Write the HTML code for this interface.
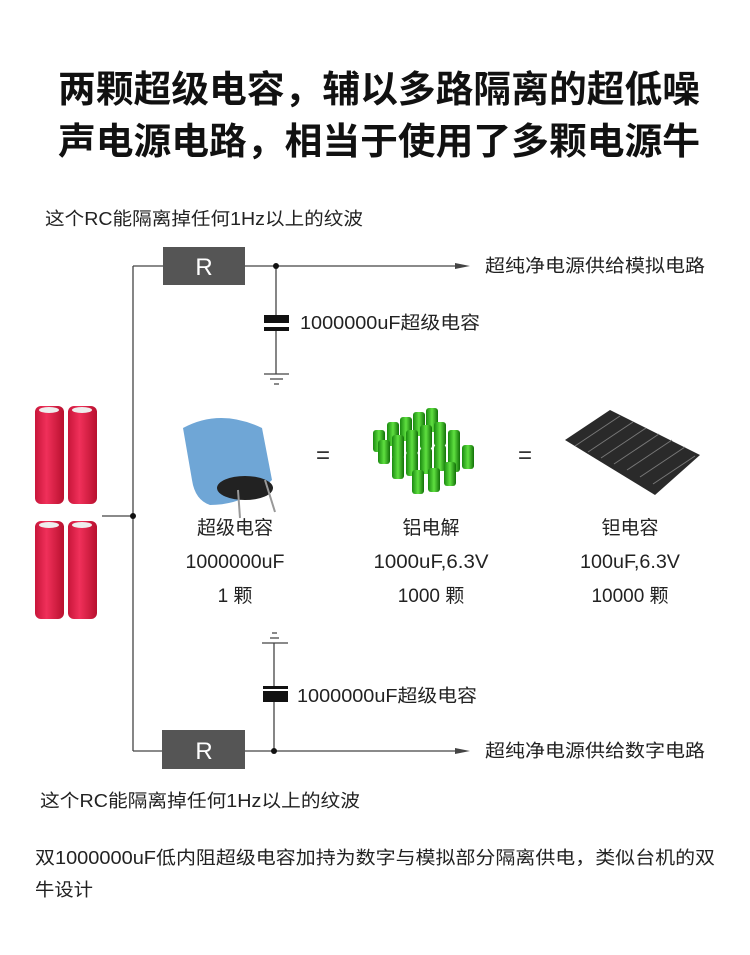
<!DOCTYPE html>
<html><head><meta charset="utf-8"><style>
body{margin:0;background:#fff;}
svg{display:block;font-family:"Liberation Sans","Noto Sans CJK SC",sans-serif;}
</style></head><body>
<svg width="750" height="955" viewBox="0 0 750 955" xmlns="http://www.w3.org/2000/svg">
<defs>
<linearGradient id="bat" x1="0" x2="1"><stop offset="0" stop-color="#c8163a"/><stop offset="0.4" stop-color="#f0305a"/><stop offset="1" stop-color="#b8102e"/></linearGradient>
<linearGradient id="grn" x1="0" x2="1"><stop offset="0" stop-color="#1a8a10"/><stop offset="0.5" stop-color="#5fe040"/><stop offset="1" stop-color="#127008"/></linearGradient>
</defs>
<g font-weight="bold" font-size="37" fill="#111">
<text x="58" y="102" textLength="642" lengthAdjust="spacingAndGlyphs">两颗超级电容，辅以多路隔离的超低噪</text>
<text x="58" y="154" textLength="642" lengthAdjust="spacingAndGlyphs">声电源电路，相当于使用了多颗电源牛</text>
</g>
<g font-size="18" fill="#222" lengthAdjust="spacingAndGlyphs">
<text x="45" y="225" textLength="318" lengthAdjust="spacingAndGlyphs">这个RC能隔离掉任何1Hz以上的纹波</text>
<text x="485" y="272" textLength="220" lengthAdjust="spacingAndGlyphs">超纯净电源供给模拟电路</text>
<text x="300" y="329" textLength="180" lengthAdjust="spacingAndGlyphs">1000000uF超级电容</text>
<text x="297" y="702" textLength="180" lengthAdjust="spacingAndGlyphs">1000000uF超级电容</text>
<text x="485" y="757" textLength="220" lengthAdjust="spacingAndGlyphs">超纯净电源供给数字电路</text>
<text x="40" y="807" textLength="320" lengthAdjust="spacingAndGlyphs">这个RC能隔离掉任何1Hz以上的纹波</text>
<text x="35" y="864" textLength="680" lengthAdjust="spacingAndGlyphs">双1000000uF低内阻超级电容加持为数字与模拟部分隔离供电，类似台机的双</text>
<text x="35" y="896" textLength="58" lengthAdjust="spacingAndGlyphs">牛设计</text>
</g>
<g stroke="#444" stroke-width="1.3" fill="none">
<path d="M133 266V751M133 266H163M245 266H460M133 751H163M245 751H460M102 516H133"/>
<path d="M276 266V316M276 331V374M264 374H289M270 379H283M274 384H279"/>
<path d="M274 643V686M274 702V751M262 643H288M270 638H279M272 633H277"/>
</g>
<polygon points="455,263 470,266 455,269" fill="#444"/>
<polygon points="455,748 470,751 455,754" fill="#444"/>
<circle cx="276" cy="266" r="3" fill="#111"/><circle cx="274" cy="751" r="3" fill="#111"/><circle cx="133" cy="516" r="3" fill="#111"/>
<rect x="264" y="315" width="25" height="8" fill="#111"/><rect x="264" y="327" width="25" height="4" fill="#111"/>
<rect x="263" y="686" width="25" height="3" fill="#111"/><rect x="263" y="691" width="25" height="11" fill="#111"/>
<rect x="163" y="247" width="82" height="38" fill="#555"/><rect x="162" y="730" width="83" height="39" fill="#555"/>
<g fill="#fff" font-size="24" text-anchor="middle"><text x="204" y="275">R</text><text x="204" y="759">R</text></g>
<g>
<rect x="35" y="406" width="29" height="98" rx="6" fill="url(#bat)"/><rect x="68" y="406" width="29" height="98" rx="6" fill="url(#bat)"/>
<rect x="35" y="521" width="29" height="98" rx="6" fill="url(#bat)"/><rect x="68" y="521" width="29" height="98" rx="6" fill="url(#bat)"/>
<ellipse cx="49" cy="410" rx="10" ry="3" fill="#eee"/><ellipse cx="82" cy="410" rx="10" ry="3" fill="#eee"/>
<ellipse cx="49" cy="525" rx="10" ry="3" fill="#eee"/><ellipse cx="82" cy="525" rx="10" ry="3" fill="#eee"/>
</g>
<g>
<path d="M183 428 Q220 408 262 428 L272 480 Q245 505 210 505 Q195 500 192 480Z" fill="#6fa6d6"/>
<ellipse cx="245" cy="488" rx="28" ry="12" fill="#222"/>
<path d="M238 490 L240 518M265 480 L275 512" stroke="#999" stroke-width="2"/>
</g>
<g fill="#333" font-size="24" text-anchor="middle"><text x="323" y="463">=</text><text x="525" y="463">=</text></g>
<g fill="url(#grn)">
<rect x="373" y="430" width="12" height="22" rx="3"/><rect x="387" y="422" width="12" height="24" rx="3"/><rect x="400" y="417" width="12" height="24" rx="3"/><rect x="413" y="412" width="12" height="24" rx="3"/><rect x="426" y="408" width="12" height="24" rx="3"/>
<rect x="378" y="440" width="12" height="24" rx="3"/><rect x="392" y="435" width="12" height="24" rx="3"/><rect x="406" y="430" width="12" height="24" rx="3"/><rect x="420" y="425" width="12" height="24" rx="3"/><rect x="434" y="422" width="12" height="24" rx="3"/><rect x="448" y="430" width="12" height="24" rx="3"/>
<rect x="392" y="455" width="12" height="24" rx="3"/><rect x="406" y="452" width="12" height="24" rx="3"/><rect x="420" y="448" width="12" height="26" rx="3"/><rect x="434" y="445" width="12" height="26" rx="3"/><rect x="448" y="448" width="12" height="24" rx="3"/><rect x="462" y="445" width="12" height="24" rx="3"/>
<rect x="412" y="470" width="12" height="24" rx="3"/><rect x="428" y="468" width="12" height="24" rx="3"/><rect x="444" y="462" width="12" height="24" rx="3"/>
</g>
<g fill="#2a2a2a"><polygon points="565,440 610,410 700,455 655,495"/></g>
<g stroke="#777" stroke-width="1">
<path d="M575 446L620 416M588 452L633 422M601 458L646 428M614 464L659 434M627 470L672 440M640 477L685 447M653 484L695 456"/>
</g>
<g font-size="19" fill="#222" text-anchor="middle">
<text x="235" y="534">超级电容</text><text x="235" y="568" textLength="99" lengthAdjust="spacingAndGlyphs">1000000uF</text><text x="235" y="602">1 颗</text>
<text x="431" y="534">铝电解</text><text x="431" y="568" textLength="115" lengthAdjust="spacingAndGlyphs">1000uF,6.3V</text><text x="431" y="602">1000 颗</text>
<text x="630" y="534">钽电容</text><text x="630" y="568" textLength="100" lengthAdjust="spacingAndGlyphs">100uF,6.3V</text><text x="630" y="602">10000 颗</text>
</g>
</svg>
</body></html>
